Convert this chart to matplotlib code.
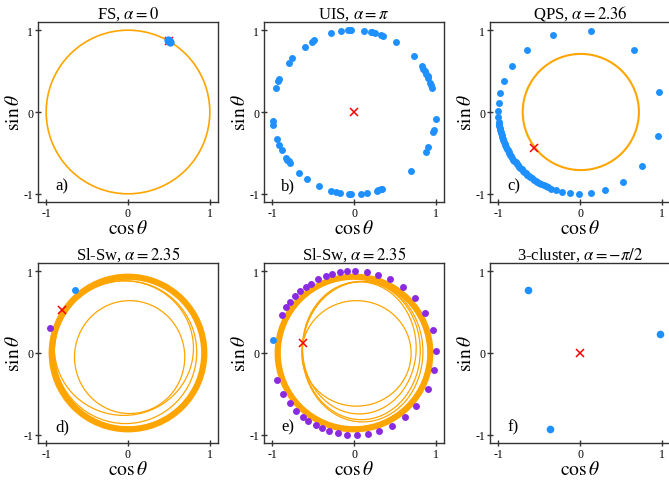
import numpy as np
import matplotlib.pyplot as plt
from matplotlib.patches import Ellipse

plt.rcParams['font.family'] = ['Liberation Serif', 'DejaVu Serif']
plt.rcParams['mathtext.fontset'] = 'stix'
plt.rcParams['axes.unicode_minus'] = False

ORANGE = '#FFA500'
BLUE = '#1E90FF'
PURPLE = '#8A2BE2'

titles = [r'FS, $\alpha=0$', r'UIS, $\alpha=\pi$', r'QPS, $\alpha=2.36$',
          r'Sl-Sw, $\alpha=2.35$', r'Sl-Sw, $\alpha=2.35$', r'3-cluster, $\alpha=-\pi/2$']
tags = ['a)', 'b)', 'c)', 'd)', 'e)', 'f)']

# orbits of the mean field: (centre x, centre y, width, height)
# a) FS
fs_orbit = [(0.0, 0.0, 2.0, 2.0)]
fs_blue_deg = [59, 60, 61]
fs_mean = (0.50, 0.87)

# b) UIS
uis_blue_deg = [106, 99, 94, 93, 92, 83, 78, 77, 75, 71, 69, 59, 43, 34, 32, 30, 28, 26,
                24.5, 21, 19, 17, -5, -13, -14, -25, -29, -46, -70, -71, -73, -74, -81,
                -85, -92, -93.5, -100, -103, -106, -115, -125, -132, -141, -143, -144.5,
                -146, -152, -156.5, -161, -171, -174, 163, 158, 156, 143, 139, 127, 121, 119]
uis_mean = (0.0, 0.0)

# c) QPS
qps_orbit = [(0.01, 0.0, 1.42, 1.42)]
qps_blue_deg = [109.4, 82, 130.5, 49, 146, 158, 166.7, 14, 173.7, 179, -176.5, -173,
                -171.5, -170.2, -168.6, -167.3, -166.1, -164.8, -163.4, -162.2, -161, -159.7,
                -158.5, -157.1, -155.9, -154.6, -153.4, -152.1, -150.8, -149.6, -148.3,
                -147.1, -145.8, -144.4, -143.2, -141.9, -140.7, -139.3, -138.1, -136.8,
                -135.5, -134.1, -132.8, -131.4, -130.1, -128.7, -127.3, -125.8, -124.4,
                -122.9, -121.3, -119.8, -118.1, -116.4, -114.6, -112.7,
                -110.6, -106.8, -102.4, -97.2, -90.7, -82, -72, -58.5, -41, -17]
qps_mean = (-0.56, -0.44)

# d) Sl-Sw
band_radii = [0.955, 0.945, 0.935, 0.925, 0.915, 0.91]
d_loops = [(0.02, -0.05, 1.347, 1.38), (-0.03, 0.01, 1.74, 1.745),
           (-0.05, 0.06, 1.70, 1.645)]
d_blue = [(-0.65, 0.77)]
d_purple = [(-0.95, 0.31)]
d_mean = (-0.81, 0.53)

# e) Sl-Sw
e_loops = [(0.03, -0.005, 1.336, 1.29), (0.065, 0.0625, 1.39, 1.615),
           (0.09, 0.03, 1.44, 1.69), (0.105, 0.015, 1.475, 1.715)]
e_blue_deg = [171]
e_purple_deg = [110, 105.5, 100, 94.7, 89.6, 81, 73, 64, 53.6, 42, 29.6, 16, 1.6, -11.7,
                -26, -40.4, -51.4, -62.6, -71.9, -79.9, -88.2, -94.8, -101.5, -107.5, -113,
                -118, -124, -129, -135, -142, -150, -161, 116, 122, 126, 131, 136, 141, 146, 152]
e_mean = (-0.62, 0.12)

# f) 3-cluster
f_blue = [(-0.64, 0.77), (0.98, 0.23), (-0.37, -0.925)]
f_mean = (0.0, 0.0)


def on_circle(deg):
    a = np.deg2rad(np.asarray(deg, dtype=float))
    return np.cos(a), np.sin(a)


fig = plt.figure(figsize=(6.69, 4.81), dpi=100)
lefts = [38, 264, 490]
tops = [23, 264]
axes = []
for r in range(2):
    for c in range(3):
        ax = fig.add_axes([lefts[c] / 669, 1 - (tops[r] + 180) / 481, 180 / 669, 180 / 481])
        axes.append(ax)


def orbit(ax, loops, lw=1.0):
    for cx, cy, w, h in loops:
        ax.add_patch(Ellipse((cx, cy), w, h, fill=False, ec=ORANGE, lw=lw, zorder=2))


def mean(ax, p):
    ax.plot(p[0], p[1], 'x', color='red', ms=5.5, mew=1.1, zorder=3)


ms = 5
# a
ax = axes[0]
orbit(ax, fs_orbit, lw=1.2)
mean(ax, fs_mean)
x, y = on_circle(fs_blue_deg)
ax.plot(x, y, 'o', color=BLUE, ms=ms, zorder=4)

# b
ax = axes[1]
mean(ax, uis_mean)
x, y = on_circle(uis_blue_deg)
ax.plot(x, y, 'o', color=BLUE, ms=ms, mew=0, zorder=4)

# c
ax = axes[2]
orbit(ax, qps_orbit, lw=1.5)
x, y = on_circle(qps_blue_deg)
ax.plot(x, y, 'o', color=BLUE, ms=ms, mew=0, zorder=4)
mean(ax, qps_mean)

# d
ax = axes[3]
orbit(ax, [(0, 0, 2 * rr, 2 * rr) for rr in band_radii], lw=1.8)
orbit(ax, d_loops, lw=0.9)
mean(ax, d_mean)
ax.plot(*zip(*d_blue), 'o', color=BLUE, ms=ms, mew=0, zorder=4)
ax.plot(*zip(*d_purple), 'o', color=PURPLE, ms=ms, mew=0, zorder=4)

# e
ax = axes[4]
orbit(ax, [(0, 0, 2 * rr, 2 * rr) for rr in band_radii], lw=1.8)
orbit(ax, e_loops, lw=0.9)
mean(ax, e_mean)
x, y = on_circle(e_purple_deg)
ax.plot(x, y, 'o', color=PURPLE, ms=ms, mew=0, zorder=4)
x, y = on_circle(e_blue_deg)
ax.plot(x, y, 'o', color=BLUE, ms=ms, mew=0, zorder=4)

# f
ax = axes[5]
mean(ax, f_mean)
ax.plot(*zip(*f_blue), 'o', color=BLUE, ms=5.5, mew=0, zorder=4)

for ax, t, tag in zip(axes, titles, tags):
    ax.set_xlim(-1.1, 1.1)
    ax.set_ylim(-1.1, 1.1)
    ax.set_xticks([-1, 0, 1])
    ax.set_yticks([-1, 0, 1])
    ax.tick_params(direction='inout', length=4, width=1, labelsize=8.5, pad=1.5, color='#333333')
    for s in ax.spines.values():
        s.set_color('#333333')
        s.set_linewidth(1.0)
    ax.set_title(t, fontsize=12, pad=3)
    ax.set_xlabel(r'$\cos\theta$', fontsize=14, labelpad=0)
    ax.set_ylabel(r'$\sin\theta$', fontsize=14, labelpad=0)
    ax.text(0.095, 0.07, tag, transform=ax.transAxes, fontsize=12)

fig.savefig('out.png', dpi=100)
